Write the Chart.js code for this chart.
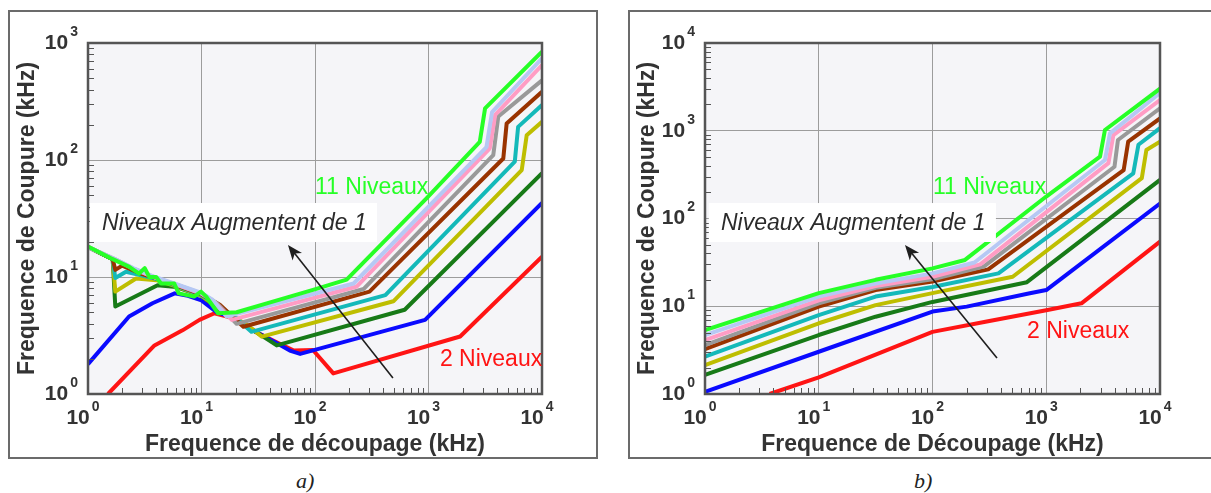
<!DOCTYPE html>
<html>
<head>
<meta charset="utf-8">
<title>Frequence de coupure</title>
<script src="https://cdn.jsdelivr.net/npm/chart.js@4.4.1/dist/chart.umd.min.js"></script>
<style>
  html, body { margin:0; padding:0; background:#fff; }
  body { width:1211px; height:493px; position:relative; overflow:hidden; }
  .panel { position:absolute; top:10px; height:449px; border:2px solid #6b6b6b; box-sizing:border-box; }
  #panelA { left:8px; width:590px; }
  #panelB { left:628px; width:620px; }
  .box { position:absolute; top:10px; height:448px; }
  #boxA { left:8px; width:589px; }
  #boxB { left:628px; width:583px; }
  .cap { position:absolute; top:468px; font: italic 22px "Liberation Serif", "DejaVu Serif", serif; color:#222; }
</style>
</head>
<body>
<div class="panel" id="panelA"></div>
<div class="panel" id="panelB"></div>
<div class="box" id="boxA"><canvas id="chartA" width="589" height="448"></canvas></div>
<div class="box" id="boxB"><canvas id="chartB" width="583" height="448"></canvas></div>
<div class="cap" style="left:296px">a)</div>
<div class="cap" style="left:914px">b)</div>

<script>
// niveaux 2..11, [freq. decoupage kHz, freq. coupure kHz]
const levels = [2, 3, 4, 5, 6, 7, 8, 9, 10, 11];
const levelColors = ['#ff1414', '#0a0aff', '#177a17', '#bebe00', '#14b9b9', '#993300', '#999999', '#ff9cc4', '#b6c8f4', '#26ff26'];

// a) Frequence de decoupage
const a2  = [[1.5,1.0],[3.85,2.6],[6.8,3.5],[9.6,4.3],[13,4.9],[20,4.4],[30,3.4],[45,2.8],[65,2.35],[96,2.38],[145,1.5],[1900,3.1],[10000,14.9]];
const a3  = [[1,1.8],[2.3,4.6],[3.7,5.96],[5.8,7.25],[7.6,6.9],[10,6.3],[13.6,5.0],[20,4.4],[30,3.4],[45,2.75],[60,2.35],[74,2.2],[933,4.3],[10000,43]];
const a4  = [[1,18],[1.65,14.2],[1.74,5.6],[4.1,8.5],[6,8.2],[10,6.9],[13.6,5.5],[20,4.4],[30,3.4],[40,2.85],[46,2.6],[617,5.25],[10000,77]];
const a5  = [[1,18],[1.65,14.2],[1.74,7.5],[2.65,9.7],[4,9.4],[6,8.3],[10,6.9],[13.6,5.6],[20,4.5],[28,3.6],[34,3.09],[490,6.2],[6630,82],[7330,163],[10000,212]];
const a6  = [[1,18],[1.65,14.2],[1.74,9.8],[2.16,11.1],[3,10.3],[4.2,9.5],[6,8.4],[10,7.0],[13.6,5.8],[20,4.5],[27.5,3.4],[417,7.0],[5760,97],[6160,192],[10000,295]];
const a7  = [[1,18],[1.65,14.2],[1.74,11.5],[2.0,12.5],[3,10.6],[4.2,9.6],[6,8.5],[10,7.1],[14.5,5.8],[23.4,3.76],[302,7.5],[4560,103],[4880,205],[10000,383]];
const a8  = [[1,18],[1.7,14.3],[2.5,11.8],[4,9.8],[6,8.6],[10,7.2],[13.6,6.0],[20.4,3.98],[269,7.9],[3720,110],[4120,235],[10000,480]];
const a9  = [[1,18],[1.7,14.3],[2.5,11.8],[4,9.8],[6,8.6],[10,7.2],[13,6.1],[18.5,4.3],[234,8.3],[3470,126],[3870,243],[10000,647]];
const a10 = [[1,18],[1.7,14.3],[2.5,11.9],[4,9.9],[6,8.7],[10,7.3],[12.5,6.4],[16.6,4.6],[219,8.8],[3240,129],[3630,257],[10000,740]];
const a11 = [[1,18.2],[1.58,14.5],[2.31,12.2],[2.82,10.7],[3.16,11.9],[3.47,10],[3.98,10],[4.4,8.8],[5.75,8.8],[6.3,7.25],[8.6,6.8],[9.9,7.5],[11,6.8],[14,4.9],[20.4,5.0],[37.6,5.96],[96,7.75],[190,9.5],[960,47],[2830,143],[3150,276],[10000,842]];

// b) Frequence de Decoupage
const b2  = [[3.7,1.0],[10,1.55],[100,5.1],[300,6.7],[1000,9.0],[2040,10.8],[10000,54.5]];
const b3  = [[1,1.06],[10,3.03],[100,8.7],[200,9.9],[700,14],[1000,15.3],[10000,148]];
const b4  = [[1,1.65],[10,4.7],[31.6,7.6],[100,11.2],[676,18.8],[10000,275]];
const b5  = [[1,2.14],[10,6.4],[31.6,10.3],[100,14.1],[507,21.7],[6920,288],[7590,603],[10000,750]];
const b6  = [[1,2.66],[10,7.94],[31.6,12.9],[100,16.6],[380,23.7],[5820,327],[6460,692],[10000,1070]];
const b7  = [[1,3.24],[10,9.9],[31.6,15.3],[100,19.1],[309,26.3],[4790,355],[5250,750],[10000,1380]];
const b8  = [[1,3.6],[10,10.8],[31.6,16.2],[100,20.3],[282,28.3],[3980,389],[4270,785],[10000,1800]];
const b9  = [[1,4.12],[10,11.7],[31.6,17],[100,21.7],[263,30],[3520,427],[3890,891],[10000,2240]];
const b10 = [[1,4.7],[10,12.9],[31.6,18.2],[100,23.7],[234,31.5],[3280,464],[3630,933],[10000,2690]];
const b11 = [[1,5.36],[10,14.1],[31.6,20],[100,27],[193,33.7],[1000,178],[2970,506],[3280,1020],[10000,3020]];

// decades shown on the axes (exponents of 10)
const xExps  = [0, 1, 2, 3, 4];
const yExpsA = [0, 1, 2, 3];
const yExpsB = [0, 1, 2, 3, 4];

// annotations, in data coordinates
const notesA = {
  top: { text: '11 Niveaux', x: 100, y: 57.5 },
  bottom: { text: '2 Niveaux', x: 1260, y: 1.95 },
  box: { x1: 1.04, x2: 352, y1: 19.9, y2: 42.9, tx: 1.33, ty: 28.4, text: 'Niveaux Augmentent de 1' },
  arrow: { from: [486, 1.37], to: [57.8, 18.8] }
};
const notesB = {
  top: { text: '11 Niveaux', x: 101, y: 222 },
  bottom: { text: '2 Niveaux', x: 677, y: 5.09 },
  box: { x1: 1.08, x2: 361, y1: 54, y2: 150, tx: 1.38, ty: 86.5, text: 'Niveaux Augmentent de 1' },
  arrow: { from: [369, 2.57], to: [57.3, 49.9] }
};

const SANS = '"Liberation Sans", Arial, sans-serif';

function decadeTicks(exps){
  const out = [];
  for (let i = 0; i < exps.length; i++){
    const base = Math.pow(10, exps[i]);
    out.push({ value: base, major: true });
    if (i < exps.length - 1) for (let m = 2; m < 10; m++) out.push({ value: m * base, major: false });
  }
  return out;
}

function drawPow(ctx, exp, x, y, align){
  ctx.font = 'bold 21px ' + SANS;
  const wb = ctx.measureText('10').width;
  ctx.font = 'bold 14px ' + SANS;
  const ws = ctx.measureText(String(exp)).width;
  const gap = 2;
  const left = align === 'right' ? x - wb - gap - ws : x - (wb + gap + ws) / 2 - 5;
  ctx.textAlign = 'left';
  ctx.textBaseline = 'middle';
  ctx.fillStyle = '#333';
  ctx.font = 'bold 21px ' + SANS;
  ctx.fillText('10', left, y);
  ctx.font = 'bold 14px ' + SANS;
  ctx.fillText(String(exp), left + wb + gap, y - 11);
}

const panelPlugin = {
  id: 'panel',
  beforeDraw(chart){
    const { ctx, chartArea: a } = chart;
    ctx.save();
    ctx.fillStyle = '#f5f5f8';
    ctx.fillRect(a.left, a.top, a.right - a.left, a.bottom - a.top);
    ctx.restore();
  },
  afterDatasetsDraw(chart){
    const { ctx, chartArea: a, scales: { x, y } } = chart;
    const notes = chart.options.plugins.panel.notes;
    ctx.save();
    // minor ticks, inside the plot
    ctx.strokeStyle = '#555';
    ctx.lineWidth = 1;
    ctx.beginPath();
    x.ticks.forEach(t => { if (!t.major){ const p = Math.round(x.getPixelForValue(t.value)) + 0.5; ctx.moveTo(p, a.bottom); ctx.lineTo(p, a.bottom - 6); } });
    y.ticks.forEach(t => { if (!t.major){ const p = Math.round(y.getPixelForValue(t.value)) + 0.5; ctx.moveTo(a.left, p); ctx.lineTo(a.left + 6, p); } });
    ctx.stroke();
    // plot frame
    ctx.strokeStyle = '#555';
    ctx.lineWidth = 2.5;
    ctx.strokeRect(a.left, a.top, a.right - a.left, a.bottom - a.top);

    // white label box
    const b = notes.box;
    const bx1 = x.getPixelForValue(b.x1), bx2 = x.getPixelForValue(b.x2);
    const by1 = y.getPixelForValue(b.y2), by2 = y.getPixelForValue(b.y1);
    ctx.fillStyle = '#fff';
    ctx.fillRect(bx1, by1, bx2 - bx1, by2 - by1);
    ctx.fillStyle = '#2b2b2b';
    ctx.font = 'italic 23px ' + SANS;
    ctx.textAlign = 'left';
    ctx.textBaseline = 'middle';
    ctx.fillText(b.text, x.getPixelForValue(b.tx), y.getPixelForValue(b.ty));

    // level labels
    ctx.font = '23px ' + SANS;
    ctx.fillStyle = levelColors[levelColors.length - 1];
    ctx.fillText(notes.top.text, x.getPixelForValue(notes.top.x), y.getPixelForValue(notes.top.y));
    ctx.fillStyle = levelColors[0];
    ctx.fillText(notes.bottom.text, x.getPixelForValue(notes.bottom.x), y.getPixelForValue(notes.bottom.y));

    // arrow
    const x0 = x.getPixelForValue(notes.arrow.from[0]), y0 = y.getPixelForValue(notes.arrow.from[1]);
    const x1 = x.getPixelForValue(notes.arrow.to[0]), y1 = y.getPixelForValue(notes.arrow.to[1]);
    const ang = Math.atan2(y1 - y0, x1 - x0);
    ctx.strokeStyle = '#1e1e1e';
    ctx.fillStyle = '#1e1e1e';
    ctx.lineWidth = 1.6;
    ctx.beginPath();
    ctx.moveTo(x0, y0);
    ctx.lineTo(x1 - 10 * Math.cos(ang), y1 - 10 * Math.sin(ang));
    ctx.stroke();
    ctx.beginPath();
    ctx.moveTo(x1, y1);
    ctx.lineTo(x1 - 15 * Math.cos(ang) + 6 * Math.sin(ang), y1 - 15 * Math.sin(ang) - 6 * Math.cos(ang));
    ctx.lineTo(x1 - 11 * Math.cos(ang), y1 - 11 * Math.sin(ang));
    ctx.lineTo(x1 - 15 * Math.cos(ang) - 6 * Math.sin(ang), y1 - 15 * Math.sin(ang) + 6 * Math.cos(ang));
    ctx.closePath();
    ctx.fill();

    // decade labels with superscript exponent
    x.ticks.forEach(t => { if (t.major) drawPow(ctx, Math.round(Math.log10(t.value)), x.getPixelForValue(t.value), a.bottom + 24, 'center'); });
    y.ticks.forEach(t => { if (t.major) drawPow(ctx, Math.round(Math.log10(t.value)), a.left - 10, y.getPixelForValue(t.value), 'right'); });
    ctx.restore();
  }
};

function buildChart(canvasId, series, yExps, xTitle, yTitle, notes, sizes){
  const datasets = series.map((pts, i) => ({
    label: levels[i] + ' Niveaux',
    data: pts,
    borderColor: levelColors[i],
    backgroundColor: levelColors[i],
    borderWidth: 4,
    pointRadius: 0,
    tension: 0,
    borderJoinStyle: 'round',
    order: series.length - i
  }));
  const gridColor = ctx => (ctx.tick && ctx.tick.major) ? '#9c9c9c' : 'rgba(0,0,0,0)';
  return new Chart(document.getElementById(canvasId), {
    type: 'line',
    data: { datasets },
    plugins: [panelPlugin],
    options: {
      responsive: false,
      animation: false,
      devicePixelRatio: 1,
      layout: { padding: { left: 0, right: sizes.right, top: 33, bottom: 0 } },
      plugins: { legend: { display: false }, tooltip: { enabled: false }, panel: { notes } },
      scales: {
        x: {
          type: 'logarithmic', position: 'bottom', min: 1, max: 10000,
          afterBuildTicks: s => { s.ticks = decadeTicks(xExps); },
          afterFit: s => { s.height = 64; },
          ticks: { display: false, autoSkip: false },
          grid: { color: gridColor, lineWidth: 1, drawTicks: false },
          border: { display: false },
          title: { display: true, text: xTitle, color: '#333', font: { family: SANS, size: 23, weight: 'bold' }, padding: { top: 0, bottom: 0 } }
        },
        y: {
          type: 'logarithmic', position: 'left', min: 1, max: Math.pow(10, yExps[yExps.length - 1]),
          afterBuildTicks: s => { s.ticks = decadeTicks(yExps); },
          afterFit: s => { s.width = sizes.left; },
          ticks: { display: false, autoSkip: false },
          grid: { color: gridColor, lineWidth: 1, drawTicks: false },
          border: { display: false },
          title: { display: true, text: yTitle, color: '#333', font: { family: SANS, size: 23, weight: 'bold' }, padding: { top: 6, bottom: 0 } }
        }
      }
    }
  });
}

buildChart('chartA', [a2, a3, a4, a5, a6, a7, a8, a9, a10, a11], yExpsA,
  'Frequence de découpage (kHz)', 'Frequence de Coupure (kHz)', notesA, { left: 80, right: 55 });
buildChart('chartB', [b2, b3, b4, b5, b6, b7, b8, b9, b10, b11], yExpsB,
  'Frequence de Découpage (kHz)', 'Frequence de Coupure (kHz)', notesB, { left: 77, right: 51 });
</script>
</body>
</html>
